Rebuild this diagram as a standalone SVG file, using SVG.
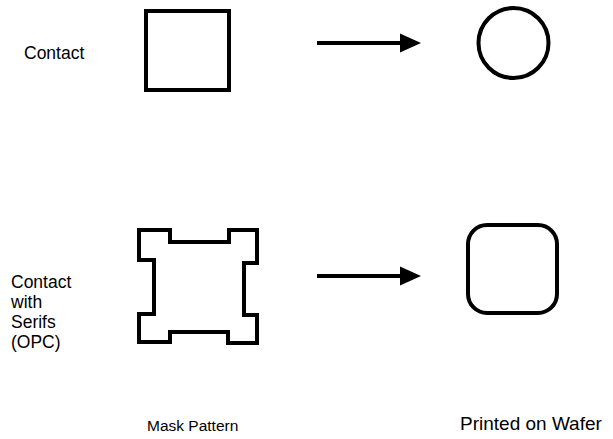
<svg xmlns="http://www.w3.org/2000/svg" width="613" height="439" viewBox="0 0 613 439">
<defs>
<style>
.shape{fill:none;stroke:#000;stroke-width:4;stroke-linejoin:miter}
.conn{stroke:#000;stroke-width:4;fill:none}
.lbl{font-family:"Liberation Sans",Arial,sans-serif;font-size:17.5px;fill:#000}
.cap{font-family:"Liberation Sans",Arial,sans-serif;fill:#000}
</style>
<marker id="ah" markerUnits="userSpaceOnUse" markerWidth="22" markerHeight="20" refX="1" refY="10" orient="auto">
<path d="M0,0.5 L21,10 L0,19.5 Z" fill="#000"/>
</marker>
</defs>
<rect width="613" height="439" fill="#fff"/>
<g id="label-contact"><text class="lbl" x="24" y="59">Contact</text></g>
<g id="label-serifs"><text class="lbl" x="11" y="288">Contact</text><text class="lbl" x="11" y="308">with</text><text class="lbl" x="11" y="328">Serifs</text><text class="lbl" x="11" y="348">(OPC)</text></g>
<g id="mask-square"><rect class="shape" x="146" y="11" width="83" height="79"/></g>
<g id="mask-serif"><path class="shape" d="M139,230 H170 V242 H229 V230 H257 V263 H244 V315 H257 V343 H228 V332 H170 V342 H139 V314 H154 V260 H139 Z"/></g>
<g id="wafer-circle"><circle class="shape" cx="513.5" cy="43" r="35"/></g>
<g id="wafer-rounded"><rect class="shape" x="468" y="225" width="89" height="88" rx="19" ry="19"/></g>
<g id="connectors">
<line class="conn" x1="317" y1="43" x2="401" y2="43" marker-end="url(#ah)"/>
<line class="conn" x1="317" y1="276" x2="401" y2="276" marker-end="url(#ah)"/>
</g>
<g id="captions">
<text class="cap" x="147" y="431" font-size="15.5">Mask Pattern</text>
<text class="cap" x="460" y="430" font-size="19">Printed on Wafer</text>
</g>
</svg>
